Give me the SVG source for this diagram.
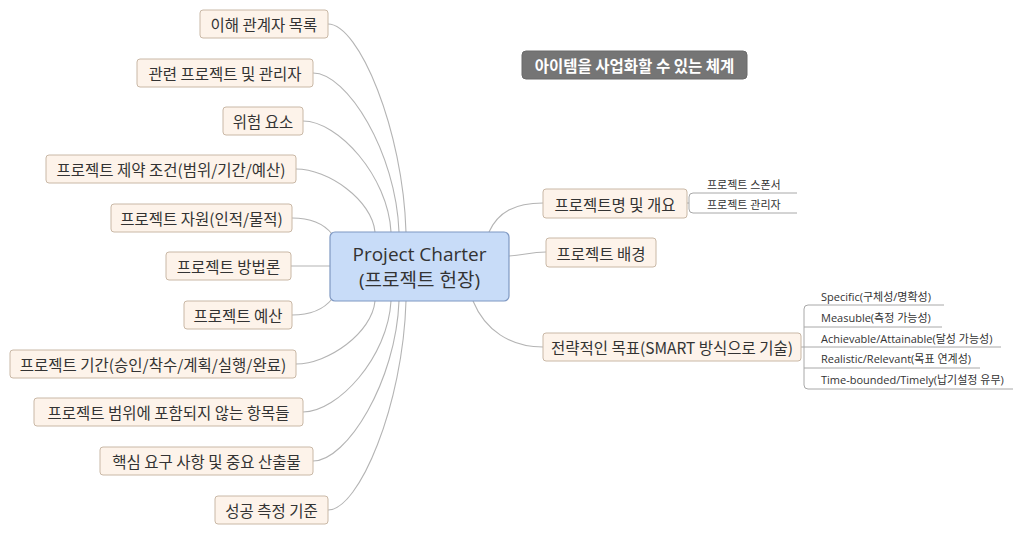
<svg xmlns="http://www.w3.org/2000/svg" width="1024" height="534" viewBox="0 0 1024 534">
<style>
.bg{fill:#ffffff}
.node rect{fill:#fdf3ea;stroke:#c9b8a6;stroke-width:1}
.node text{font-family:"Noto Sans CJK KR","Open Sans",sans-serif;font-size:15.5px;fill:#333333;text-anchor:middle;dominant-baseline:central}
.center rect{fill:#c8dcf8;stroke:#7f98c2;stroke-width:1.2}
.center text{font-family:"Open Sans","Noto Sans CJK KR",sans-serif;font-size:19px;fill:#333333;text-anchor:middle;dominant-baseline:central}
.label rect{fill:#757575;stroke:#6a6a6a;stroke-width:1}
.label text{font-family:"Noto Sans CJK KR",sans-serif;font-size:15.5px;font-weight:bold;fill:#ffffff;text-anchor:middle;dominant-baseline:central}
.sub text{font-family:"Open Sans","Noto Sans CJK KR",sans-serif;font-size:11px;fill:#333333;dominant-baseline:central}
.conn path{fill:none;stroke:#b4b4b4;stroke-width:1.1}
.under path{fill:none;stroke:#a8a8a8;stroke-width:1}
</style>
<rect class="bg" x="0" y="0" width="1024" height="534"/>

<g id="connectors" class="conn">
<path d="M328,24 C359,24 403,130 406,232"/>
<path d="M313,73 C347,73 396,152 399,232"/>
<path d="M303,121 C338,121 388,176 391,232"/>
<path d="M296,169 C328,169 372,200 375,232"/>
<path d="M292,218 C312,218 324,224 332,234"/>
<path d="M291,266 L330,266"/>
<path d="M292,315 C312,315 324,309 332,299"/>
<path d="M296,364 C328,364 372,333 375,301"/>
<path d="M303,412 C338,412 388,357 391,301"/>
<path d="M313,461 C347,461 396,381 399,301"/>
<path d="M328,510 C359,510 403,405 406,301"/>
<path d="M489,232 C498,212 515,203 543,203"/>
<path d="M509,256 C525,255 530,252 546,252"/>
<path d="M473,301 C485,330 510,347 543,347"/>
</g>

<g id="sub-connectors" class="under">
<path d="M687,203 L689,203"/>
<path d="M797,193 L693,193 Q689,193 689,197 L689,209 Q689,213 693,213 L797,213"/>
<path d="M801,347 L804,347"/>
<path d="M944,305 L808,305 Q804,305 804,309 L804,385 Q804,389 808,389 L1013,389"/>
<path d="M804,327 L942,327"/>
<path d="M804,347 L1001,347"/>
<path d="M804,368 L980,368"/>
</g>

<g id="center" class="center">
<rect x="330" y="232" width="179" height="69" rx="5"/>
<text x="419.5" y="254">Project Charter</text>
<text x="419.5" y="280">(프로젝트 헌장)</text>
</g>

<g id="label-system" class="label">
<rect x="522" y="51" width="225" height="28" rx="4"/>
<text x="634.5" y="65">아이템을 사업화할 수 있는 체계</text>
</g>

<g id="n1" class="node"><rect x="200" y="10" width="128" height="28" rx="3"/><text x="264" y="24">이해 관계자 목록</text></g>
<g id="n2" class="node"><rect x="137" y="59" width="176" height="28" rx="3"/><text x="225" y="73">관련 프로젝트 및 관리자</text></g>
<g id="n3" class="node"><rect x="223" y="107" width="80" height="28" rx="3"/><text x="263" y="121">위험 요소</text></g>
<g id="n4" class="node"><rect x="46" y="155" width="250" height="28" rx="3"/><text x="171" y="169">프로젝트 제약 조건(범위/기간/예산)</text></g>
<g id="n5" class="node"><rect x="111" y="204" width="181" height="28" rx="3"/><text x="201.5" y="218">프로젝트 자원(인적/물적)</text></g>
<g id="n6" class="node"><rect x="166" y="252" width="125" height="28" rx="3"/><text x="228.5" y="266">프로젝트 방법론</text></g>
<g id="n7" class="node"><rect x="184" y="301" width="108" height="28" rx="3"/><text x="238" y="315">프로젝트 예산</text></g>
<g id="n8" class="node"><rect x="10" y="350" width="286" height="28" rx="3"/><text x="153" y="364">프로젝트 기간(승인/착수/계획/실행/완료)</text></g>
<g id="n9" class="node"><rect x="34" y="398" width="269" height="28" rx="3"/><text x="168.5" y="412">프로젝트 범위에 포함되지 않는 항목들</text></g>
<g id="n10" class="node"><rect x="100" y="447" width="213" height="28" rx="3"/><text x="206.5" y="461">핵심 요구 사항 및 중요 산출물</text></g>
<g id="n11" class="node"><rect x="215" y="496" width="113" height="28" rx="3"/><text x="271.5" y="510">성공 측정 기준</text></g>

<g id="r1" class="node"><rect x="543" y="189" width="144" height="29" rx="3"/><text x="615" y="203.5">프로젝트명 및 개요</text></g>
<g id="r2" class="node"><rect x="546" y="238" width="110" height="29" rx="3"/><text x="601" y="252.5">프로젝트 배경</text></g>
<g id="r3" class="node"><rect x="543" y="333" width="258" height="28" rx="3"/><text x="672" y="347">전략적인 목표(SMART 방식으로 기술)</text></g>

<g id="r1-subs" class="sub">
<text x="707" y="184">프로젝트 스폰서</text>
<text x="707" y="204">프로젝트 관리자</text>
</g>
<g id="r3-subs" class="sub">
<text x="821" y="296">Specific(구체성/명확성)</text>
<text x="821" y="317">Measuble(측정 가능성)</text>
<text x="821" y="338">Achievable/Attainable(달성 가능성)</text>
<text x="821" y="358">Realistic/Relevant(목표 연계성)</text>
<text x="821" y="379">Time-bounded/Timely(납기설정 유무)</text>
</g>
</svg>
